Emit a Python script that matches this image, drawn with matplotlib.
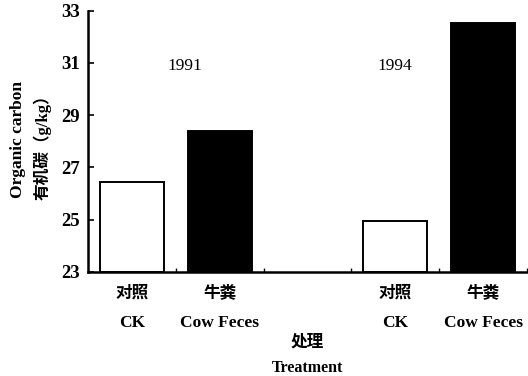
import matplotlib
matplotlib.use("Agg")
import matplotlib.pyplot as plt
import numpy as np

plt.rcParams['font.family'] = ['Liberation Serif', 'Noto Sans CJK SC']

# Data
slots = [0, 1, 3, 4]
values = [26.45, 28.38, 24.95, 32.54]
colors = ['white', 'black', 'white', 'black']
cn_labels = ['对照', '牛粪', '对照', '牛粪']
en_labels = ['CK', 'Cow Feces', 'CK', 'Cow Feces']
years = ['1991', '1994']
year_x = [0.6, 3.0]
year_y = 30.9
yticks = [23, 25, 27, 29, 31, 33]

fig = plt.figure(figsize=(5.28, 3.76), dpi=100)
ax = fig.add_axes([88/528, (376-271.7)/376, (527-88)/528, (271.7-10.7)/376])

ax.bar(slots, np.array(values) - 23, bottom=23, width=0.73,
       color=colors, edgecolor='black', linewidth=1.4)

ax.set_xlim(-0.5, 4.5)
ax.set_ylim(23, 33)
ax.set_yticks(yticks)
ax.set_yticklabels([str(t) for t in yticks], fontweight='bold', fontsize=13.5)
ax.tick_params(axis='y', direction='in', length=4, width=1.2, pad=6)

ax.set_xticks(slots)
ax.set_xticklabels([])
ax.tick_params(axis='x', which='major', length=0)
ax.set_xticks([0.5, 1.5, 2.5, 3.5, 4.5], minor=True)
ax.tick_params(axis='x', which='minor', direction='in', length=3, width=1)

for s in ['top', 'right']:
    ax.spines[s].set_visible(False)
for s in ['left', 'bottom']:
    ax.spines[s].set_linewidth(1.8)

trans = ax.get_xaxis_transform()
for x, cn, en in zip(slots, cn_labels, en_labels):
    ax.text(x, -0.082, cn, transform=trans, ha='center', va='center',
            fontsize=12, fontweight='bold')
    ax.text(x, -0.197, en, transform=trans, ha='center', va='center',
            fontsize=12.5, fontweight='bold')

for x, yr in zip(year_x, years):
    ax.text(x, year_y, yr, ha='center', va='center', fontsize=12.5)

ax.text(0.5, -0.273, '处理', transform=ax.transAxes, ha='center', va='center',
        fontsize=12, fontweight='bold')
ax.text(0.5, -0.369, 'Treatment', transform=ax.transAxes, ha='center', va='center',
        fontsize=11.5, fontweight='bold')

fig.text(18/528, 1 - 139/376, 'Organic carbon', rotation=90, ha='center', va='center',
         fontsize=12.5, fontweight='bold')
fig.text(42/528, 1 - 143/376, '有机碳（g/kg）', rotation=90, ha='center', va='center',
         fontsize=12, fontweight='bold')

fig.savefig('out.png', dpi=100)
